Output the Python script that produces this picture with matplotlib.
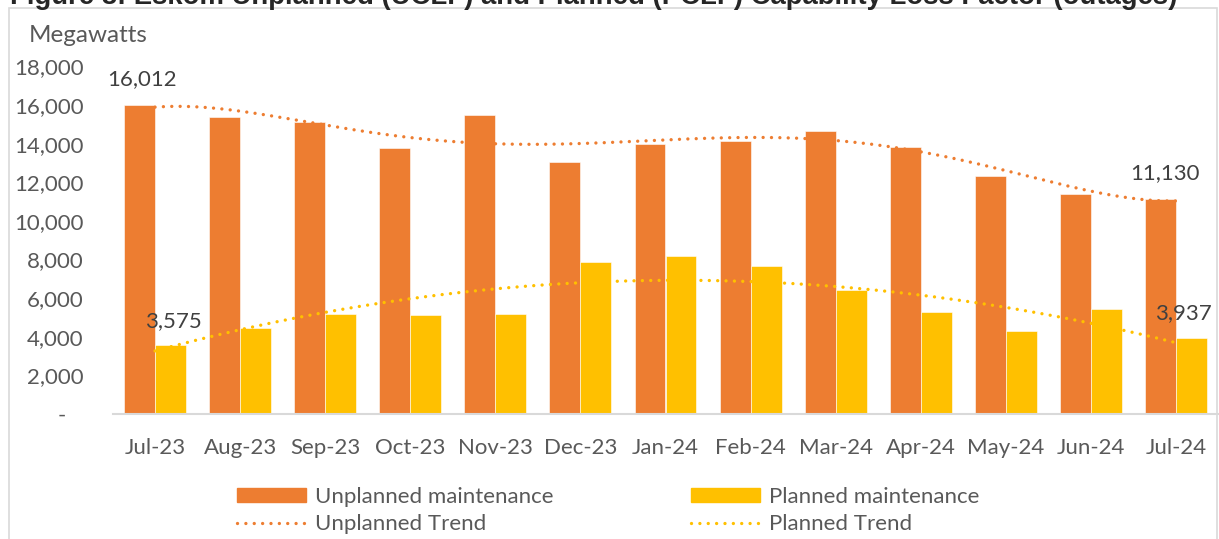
import numpy as np
import matplotlib
matplotlib.use("Agg")
import matplotlib.pyplot as plt
from matplotlib.patches import Rectangle
from matplotlib.lines import Line2D
from matplotlib.ticker import FuncFormatter

months = ["Jul-23", "Aug-23", "Sep-23", "Oct-23", "Nov-23", "Dec-23", "Jan-24",
          "Feb-24", "Mar-24", "Apr-24", "May-24", "Jun-24", "Jul-24"]
unplanned = [16012, 15390, 15130, 13800, 15480, 13030, 13960,
             14130, 14630, 13850, 12340, 11400, 11130]
planned = [3575, 4450, 5190, 5140, 5180, 7880, 8190,
           7640, 6400, 5300, 4280, 5430, 3937]

ORANGE = "#ED7D31"
GOLD = "#FFC000"
TXT = "#595959"
FONT = ["Lato", "DejaVu Sans"]
FS = 16

plt.rcParams["font.family"] = FONT

W, H = 1219, 539
fig = plt.figure(figsize=(W / 100, H / 100), dpi=100)

# chart border
fig.add_artist(Rectangle((9 / W, -0.05), 1208 / W, 1.05 - 8 / H, transform=fig.transFigure,
                         fill=False, edgecolor="#D9D9D9", linewidth=1.2))

# title, cut off at the top like the source image
fig.text(10 / W, 1 - 4 / H,
         "Figure 8: Eskom Unplanned (UCLF) and Planned (PCLF) Capability Loss Factor (outages)",
         fontsize=19.8, fontweight="bold", family=["Liberation Sans", "DejaVu Sans"],
         color="#262626", va="baseline", ha="left")

ax = fig.add_axes([112.5 / W, 1 - 414 / H, 1106 / W, (414 - 66.4) / H])

x = np.arange(len(months))
bw = 0.364
ax.bar(x - bw / 2, unplanned, bw, color=ORANGE, edgecolor="white", linewidth=0.4,
       label="Unplanned maintenance")
ax.bar(x + bw / 2, planned, bw, color=GOLD, edgecolor="white", linewidth=0.4,
       label="Planned maintenance")

# polynomial trendlines fitted to the bar data (as in Excel)
xs = np.linspace(0, len(months) - 1, 200)
tu = np.polyval(np.polyfit(x, unplanned, 5), xs)
tp = np.polyval(np.polyfit(x, planned, 3), xs)
dots = dict(linestyle=(0, (0.01, 2.5)), dash_capstyle="round", linewidth=2.4)
ax.plot(xs, tu, color=ORANGE, **dots)
ax.plot(xs, tp, color=GOLD, **dots)

ax.set_xlim(-0.5, len(months) - 0.5)
ax.set_ylim(0, 18000)
ax.set_yticks(range(0, 18001, 2000))
ax.yaxis.set_major_formatter(FuncFormatter(lambda v, p: "-   " if v == 0 else f"{v:,.0f}"))
ax.set_xticks(x)
ax.set_xticklabels(months)
ax.tick_params(axis="both", length=0, labelsize=FS, colors=TXT)
ax.tick_params(axis="y", pad=21)
ax.tick_params(axis="x", pad=17)
for s in ["top", "right", "left"]:
    ax.spines[s].set_visible(False)
ax.spines["bottom"].set_color("#D9D9D9")
ax.spines["bottom"].set_linewidth(1.5)

# data labels
lab = dict(fontsize=FS, color="#404040", ha="center", va="center", textcoords="offset pixels")
ax.annotate(f"{unplanned[0]:,}", (x[0] - bw / 2, unplanned[0]), xytext=(2, 26), **lab)
ax.annotate(f"{planned[0]:,}", (x[0] + bw / 2, planned[0]), xytext=(3, 24), **lab)
ax.annotate(f"{unplanned[-1]:,}", (x[-1] - bw / 2, unplanned[-1]), xytext=(4, 26), **lab)
ax.annotate(f"{planned[-1]:,}", (x[-1] + bw / 2, planned[-1]), xytext=(-8, 25), **lab)

fig.text(29 / W, 1 - 35 / H, "Megawatts", fontsize=17.5, color=TXT, va="center", ha="left")

# legend, two columns placed separately
leg_kw = dict(frameon=False, loc="upper left", borderpad=0, borderaxespad=0,
              handlelength=3.1, handleheight=0.63, handletextpad=0.4, labelspacing=0.33,
              fontsize=FS, labelcolor=TXT)
dot_handle = lambda c: Line2D([], [], color=c, **dots)
fig.legend([Rectangle((0, 0), 1, 1, color=ORANGE), dot_handle(ORANGE)],
           ["Unplanned maintenance", "Unplanned Trend"],
           bbox_to_anchor=(237 / W, 1 - 487 / H), **leg_kw)
fig.legend([Rectangle((0, 0), 1, 1, color=GOLD), dot_handle(GOLD)],
           ["Planned maintenance", "Planned Trend"],
           bbox_to_anchor=(691 / W, 1 - 487 / H), **leg_kw)

fig.savefig("out.png", dpi=100)
